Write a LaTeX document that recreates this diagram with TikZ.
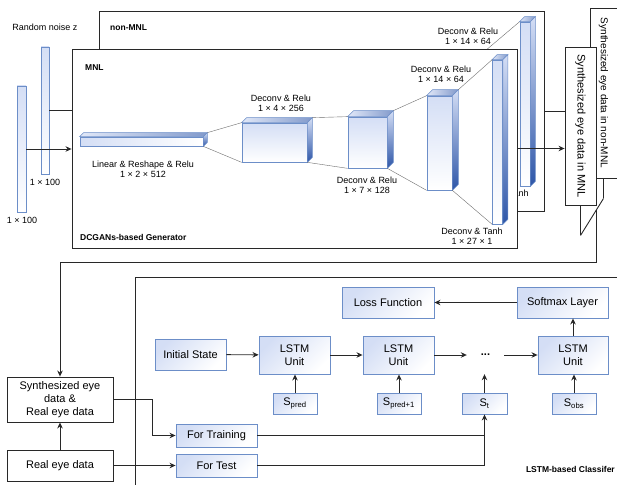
\documentclass[tikz,border=0pt]{standalone}
\usepackage{fontspec}
\setmainfont{Liberation Sans}
\usepackage{graphicx}
\usetikzlibrary{arrows.meta,positioning,calc}
\definecolor{boxline}{RGB}{108,142,200}
\definecolor{boxfill}{RGB}{212,222,245}
\definecolor{blkdark}{RGB}{46,86,168}
\definecolor{framecol}{RGB}{40,40,40}
\definecolor{linkcol}{RGB}{110,110,110}
\tikzset{
  fr/.style={draw=framecol,line width=0.9pt,fill=white},
  vec/.style={draw=boxline,line width=0.8pt,top color=boxfill,bottom color=white,inner sep=0pt},
  blk/.style={draw=boxline,line width=0.7pt,top color=boxfill,bottom color=white,inner sep=0pt},
  ub/.style={draw=boxline,line width=0.9pt,top color=boxfill,bottom color=white,shading angle=45,inner sep=0pt,font=\fontsize{11}{13}\selectfont,align=center},
  bb/.style={draw=framecol,line width=0.9pt,fill=white,inner sep=0pt,font=\fontsize{11}{13}\selectfont,align=center},
  lb/.style={font=\fontsize{9}{10}\selectfont,align=center,inner sep=0pt},
  tl/.style={font=\fontsize{8.5}{10}\selectfont\bfseries,inner sep=0pt},
  ar/.style={-{Stealth[length=6pt,width=5.5pt]},draw=framecol,line width=0.9pt},
  ln/.style={-,draw=framecol,line width=0.9pt},
  lk/.style={-,draw=linkcol,line width=0.4pt}
}

\begin{document}
\begin{tikzpicture}[x=1pt,y=-1pt]
\useasboundingbox (0,0) rectangle (617,484);
% non-MNL generator, mostly behind the MNL one
\node[fr,minimum width=445,minimum height=200] (nmnl) at (321.5,111) {};
\node[tl,anchor=west] (nmnlt) at (110,28) {non-MNL};
\node[blk,minimum width=10,minimum height=164] (nv4) at (525,104) {};
\coordinate (ndc3) at (485,51);
\draw[lk] (ndc3) -- (nv4.north west);
\node[lb] (ndc3t) at (468,36) {Deconv \& Relu\\1 × 14 × 64};
\node[lb] (nv4t) at (498,193) {Deconv \& Tanh};
\coordinate (nin) at (107,110.5);
\node[vec,minimum width=8,minimum height=127] (v2) at (45,110.5) {};
\draw[ln] (v2.east) -- (nin);
% MNL generator
\node[fr,minimum width=445,minimum height=199] (mnl) at (294.5,148.5) {};
\node[tl,anchor=west] (mnlt) at (85,68) {MNL};
\node[tl,anchor=west] (gent) at (80,237) {DCGANs-based Generator};
\node[blk,left color=boxfill,right color=white,minimum width=123,minimum height=9] (lin) at (141.5,141.5) {};
\node[blk,minimum width=65,minimum height=39] (dc1) at (274.5,142.5) {};
\node[blk,minimum width=39,minimum height=51] (dc2) at (367.5,142.5) {};
\node[blk,minimum width=25,minimum height=94] (dc3) at (439.5,143) {};
\node[blk,minimum width=10,minimum height=164] (dc4) at (497.5,142) {};
\foreach \n/\d in {lin/4,dc1/5,dc2/6,dc3/6,dc4/5,nv4/5}{
  \draw[boxline,line width=0.6pt,left color=boxfill!70,right color=blkdark!60] (\n.north west) -- ++(\d,-\d) -- ([shift={(\d,-\d)}]\n.north east) -- (\n.north east) -- cycle;
  \draw[boxline,line width=0.6pt,top color=boxfill,bottom color=blkdark] (\n.north east) -- ([shift={(\d,-\d)}]\n.north east) -- ([shift={(\d,-\d)}]\n.south east) -- (\n.south east) -- cycle;
}
\foreach \a/\b/\d in {lin/dc1/4,dc1/dc2/5,dc2/dc3/6,dc3/dc4/6}{
  \draw[lk] ([shift={(\d,-\d)}]\a.north east) -- (\b.north west);
  \draw[lk] (\a.south east) -- (\b.south west);
}
\node[lb] (lint) at (143,169) {Linear \& Reshape \& Relu\\1 × 2 × 512};
\node[lb] (dc1t) at (281,103) {Deconv \& Relu\\1 × 4 × 256};
\node[lb] (dc2t) at (367,185.5) {Deconv \& Relu\\1 × 7 × 128};
\node[lb] (dc3t) at (441,74.5) {Deconv \& Relu\\1 × 14 × 64};
\node[lb] (dc4t) at (472,236) {Deconv \& Tanh\\1 × 27 × 1};
% noise input
\node[vec,minimum width=9,minimum height=126] (v1) at (21.5,149) {};
\node[lb] (v1t) at (22,220) {1 × 100};
\node[lb] (v2t) at (45,182) {1 × 100};
\node[lb] (nzt) at (45,27) {Random noise z};
\draw[ar] (v1.east) -- (v1.east -| mnl.west);
% synthesized data
\node[fr,minimum width=27,minimum height=170] (synn) at (603.5,93) {\rotatebox{-90}{\fontsize{10}{12}\selectfont Synthesized eye data in non-MNL}};
\node[fr,minimum width=31,minimum height=158] (syn) at (580.5,126) {\rotatebox{-90}{\fontsize{11}{13}\selectfont Synthesized eye data in MNL}};
\draw[ln] (nmnl.east) -- (nmnl.east -| syn.west);
\draw[ar] (mnl.east) -- (mnl.east -| syn.west);
\draw[ln] (syn.south) -- ++(0,30) coordinate (zb);
\draw[ln] (synn.south) -- ++(0,20) coordinate (za);
\draw[ln] (zb) -- (za);
\coordinate (zm) at ($(zb)!0.7!(za)$);
% LSTM classifier
\node[fr,minimum width=490,minimum height=215,anchor=north west] (cls) at (135,277) {};
\node[tl,anchor=east] (clst) at (615,469) {LSTM-based Classifer};
\node[bb,minimum width=106,minimum height=45] (sr) at (60,399.5) {Synthesized eye\\data \&\\Real eye data};
\node[bb,minimum width=106,minimum height=31] (re) at (60,465.5) {Real eye data};
\node[ub,minimum width=81,minimum height=23] (tr) at (216.5,435.5) {For Training};
\node[ub,minimum width=81,minimum height=23] (te) at (216.5,465.5) {For Test};
\node[ub,minimum width=71,minimum height=31] (is) at (190.5,354.5) {Initial State};
\node[ub,minimum width=71,minimum height=38] (l1) at (294.5,355) {LSTM\\Unit};
\node[ub,minimum width=71,minimum height=38] (l2) at (398.5,355) {LSTM\\Unit};
\node[ub,minimum width=70,minimum height=38] (l3) at (573,355) {LSTM\\Unit};
\node[minimum width=37,minimum height=38,inner sep=0pt,font=\fontsize{11}{13}\selectfont\bfseries] (dt) at (485.5,355) {...};
\node[ub,minimum width=44,minimum height=21] (s1) at (295,403.5) {S\textsubscript{pred}};
\node[ub,minimum width=44,minimum height=21] (s2) at (399,403.5) {S\textsubscript{pred+1}};
\node[ub,minimum width=45,minimum height=21] (st) at (484.5,403.5) {S\textsubscript{t}};
\node[ub,minimum width=44,minimum height=21] (so) at (574,403.5) {S\textsubscript{obs}};
\node[ub,minimum width=91,minimum height=31] (soft) at (562.5,302.5) {Softmax Layer};
\node[ub,minimum width=92,minimum height=31] (lf) at (388,302.5) {Loss Function};
\draw[ar] (zm) -- ++(0,53) -| (sr.north);
\draw[ar] (re.north) -- (sr.south);
\draw[ar] (sr.east) -- ++(39,0) |- (tr.west);
\draw[ar] (re.east) -- (te.west);
\draw[ar] (tr.east) -| (st.south);
\draw[ln] (te.east) -| (st.south |- tr.east);
\draw[ar] (is) -- (l1);
\draw[ar] (l1) -- (l2);
\draw[ar] (l2) -- (dt);
\draw[ar] (dt) -- (l3);
\foreach \a/\b in {s1/l1,s2/l2,st/dt,so/l3}{\draw[ar] (\a.north) -- (\a.north |- \b.south);}
\draw[ar] (l3.north) -- (l3.north |- soft.south);
\draw[ar] (soft) -- (lf);
\end{tikzpicture}
\end{document}
